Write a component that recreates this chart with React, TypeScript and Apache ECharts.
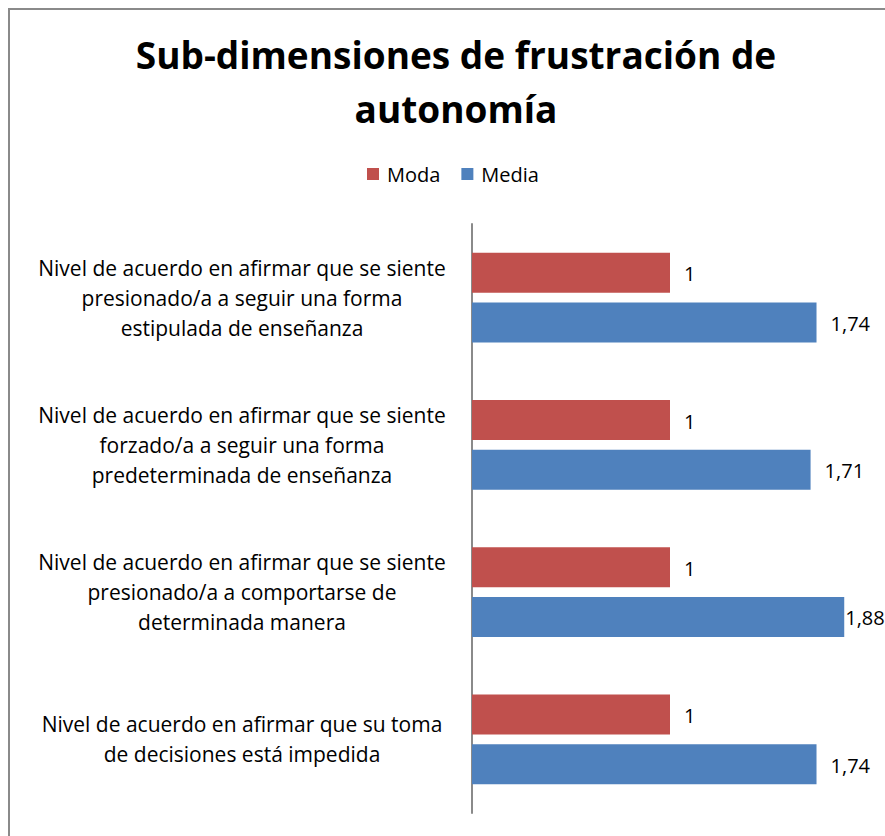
import React, { useEffect, useRef } from "react";
import * as echarts from "echarts";

const titleText = "Sub-dimensiones de frustración de\nautonomía";
const categories = [
  "Nivel de acuerdo en afirmar que se siente\npresionado/a a seguir una forma\nestipulada de enseñanza",
  "Nivel de acuerdo en afirmar que se siente\nforzado/a a seguir una forma\npredeterminada de enseñanza",
  "Nivel de acuerdo en afirmar que se siente\npresionado/a a comportarse de\ndeterminada manera",
  "Nivel de acuerdo en afirmar que su toma\nde decisiones está impedida",
];
const seriesNames = ["Moda", "Media"];
const modaValues = [1, 1, 1, 1];
const mediaValues = [1.74, 1.71, 1.88, 1.74];

const W = 885;
const H = 836;
const GRID_LEFT = 472;
const X_MAX = 2;
const GRID_RIGHT = 17;
const PLOT_W = W - GRID_LEFT - GRID_RIGHT;
const FONT = "Open Sans";
const LABEL_DIST = 14;

const fmt = (v: number) => String(v).replace(".", ",");

function buildData(values: number[]) {
  return values.map((v) => {
    const end = GRID_LEFT + (v / X_MAX) * PLOT_W;
    const labelW = fmt(v).length * 10.5;
    const tooWide = end + LABEL_DIST + labelW > W;
    return { value: v, label: { distance: tooWide ? 1 : LABEL_DIST } };
  });
}

export default function App() {
  const ref = useRef<HTMLDivElement>(null);
  useEffect(() => {
    document.body.style.margin = "0";
    const chart = echarts.init(ref.current!, null, { renderer: "svg" });
    const labelStyle = {
      show: true,
      position: "right" as const,
      formatter: (p: any) => fmt(p.value),
      fontFamily: FONT,
      fontSize: 20,
      color: "#000",
      offset: [0, 1],
    };
    chart.setOption({
      animation: false,
      backgroundColor: "#fff",
      title: {
        text: titleText,
        left: 451,
        textAlign: "center",
        top: 22,
        textStyle: {
          fontFamily: FONT,
          fontWeight: "bold",
          fontSize: 37,
          lineHeight: 54,
          color: "#000",
        },
      },
      legend: {
        data: seriesNames,
        left: 362,
        top: 157,
        itemWidth: 12,
        itemHeight: 12,
        itemGap: 21,
        icon: "rect",
        textStyle: {
          fontFamily: FONT,
          fontSize: 20,
          lineHeight: 24,
          color: "#000",
          padding: [0, 0, 0, 3],
        },
      },
      graphic: [
        {
          type: "rect",
          silent: true,
          shape: { x: 9, y: 9, width: 1000, height: 1000 },
          style: { fill: "none", stroke: "#8a8a8a", lineWidth: 2 },
        },
      ],
      grid: { left: GRID_LEFT, right: GRID_RIGHT, top: 224, bottom: H - 813, containLabel: false },
      xAxis: {
        type: "value",
        min: 0,
        max: X_MAX,
        show: false,
        splitLine: { show: false },
      },
      yAxis: {
        type: "category",
        inverse: true,
        data: categories,
        axisLine: { show: true, lineStyle: { color: "#8a8a8a", width: 2 } },
        axisTick: { show: false },
        splitLine: { show: false },
        axisLabel: {
          align: "center",
          margin: 230,
          fontFamily: FONT,
          fontSize: 21,
          lineHeight: 30,
          color: "#000",
        },
      },
      series: [
        {
          name: seriesNames[0],
          type: "bar",
          data: buildData(modaValues),
          barWidth: 40,
          barGap: "24%",
          itemStyle: { color: "#C0504D" },
          label: labelStyle,
        },
        {
          name: seriesNames[1],
          type: "bar",
          data: buildData(mediaValues),
          barWidth: 40,
          barGap: "24%",
          itemStyle: { color: "#4F81BD" },
          label: labelStyle,
        },
      ],
    });
    return () => chart.dispose();
  }, []);
  return (
    <div
      ref={ref}
      style={{ position: "absolute", left: 0, top: 0, width: W, height: H }}
    />
  );
}
